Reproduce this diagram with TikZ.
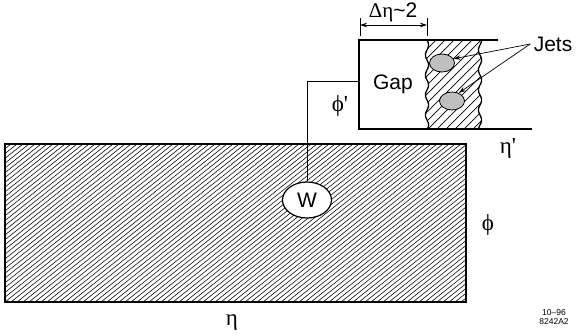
\documentclass[tikz,border=0pt]{standalone}
\usepackage{fontspec}
\setmainfont{Liberation Sans}
\newfontfamily\grk{Liberation Serif}
\usetikzlibrary{shapes.geometric,arrows.meta}

\begin{document}
\begin{tikzpicture}[x=1pt, y=-1pt, >={Stealth[length=7pt,width=4.5pt]},
  font=\fontsize{21}{24}\selectfont,
  outline/.style={line width=1.3pt},
  hatch/.style={line width=0.55pt},
  jet/.style={draw, ellipse, fill=gray!50, minimum width=25pt, minimum height=18pt, inner sep=0pt, line width=0.8pt},
  wbox/.style={draw, ellipse, fill=white, line width=1.2pt, minimum width=49pt, minimum height=36pt, inner sep=0pt},
  ptr/.style={->, line width=0.7pt},
  dim/.style={line width=0.8pt}]
\useasboundingbox (0,0) rectangle (578,335);

% calorimeter surface
\begin{scope}
  \clip (5,144) rectangle (466,302);
  \foreach \i in {-34,...,78}
    \draw[hatch] (5+6*\i,302) -- ++(198,-158);
\end{scope}
\draw[outline] (5,144) rectangle (466,302);

% jet band in the gap
\begin{scope}
  \clip plot[domain=40:129, samples=45, variable=\t] ({427+1.6*sin(18*\t)},\t)
     -- plot[domain=129:40, samples=45, variable=\t] ({480+1.6*sin(18*\t+90)},\t) -- cycle;
  \foreach \i in {0,...,17}
    \draw[hatch, line width=0.7pt] (338+9*\i,129) -- ++(92,-92);
\end{scope}
\draw[outline] plot[domain=40:129, samples=45, variable=\t] ({427+1.6*sin(18*\t)},\t);
\draw[outline] plot[domain=40:129, samples=45, variable=\t] ({480+1.6*sin(18*\t+90)},\t);
\draw[outline] (498,40) -- (359,40) -- (359,129) -- (532,129);

\node[jet]  (jet1) at (442,63)  {};
\node[jet]  (jet2) at (452,101) {};
\node       (gap)  at (393,84)  {Gap};
\node       (jets) at (553,44)  {Jets};
\node[wbox] (w)    at (307,200) {W};
\coordinate (gapin) at (359,81);

\node (phip) at (340,106) {\grk\fontsize{23}{26}\selectfont ϕ\textquotesingle};
\node (etap) at (508,148) {\grk\fontsize{23}{26}\selectfont η\textquotesingle};
\node (phi)  at (488,225) {\grk\fontsize{23}{26}\selectfont ϕ};
\node (eta)  at (232,323) {\grk\fontsize{23}{26}\selectfont η};
\node (deta) at (393,12)  {{\grk Δη}\textasciitilde2};
\node[font=\fontsize{8.5}{9.5}\selectfont, align=center] (tag) at (554,317) {10--96\\8242A2};

\coordinate (dl) at (360,25);
\coordinate (dr) at (427,25);
\draw[dim, <->] (dl) -- (dr);
\draw[dim] (360,18) -- (360,36) (427,18) -- (427,36);

\draw[line width=1pt] (w.north) |- (gapin);
\draw[ptr] (jets.west) -- (jet1.20);
\draw[ptr] (jets.west) -- (jet2.50);
\end{tikzpicture}
\end{document}
